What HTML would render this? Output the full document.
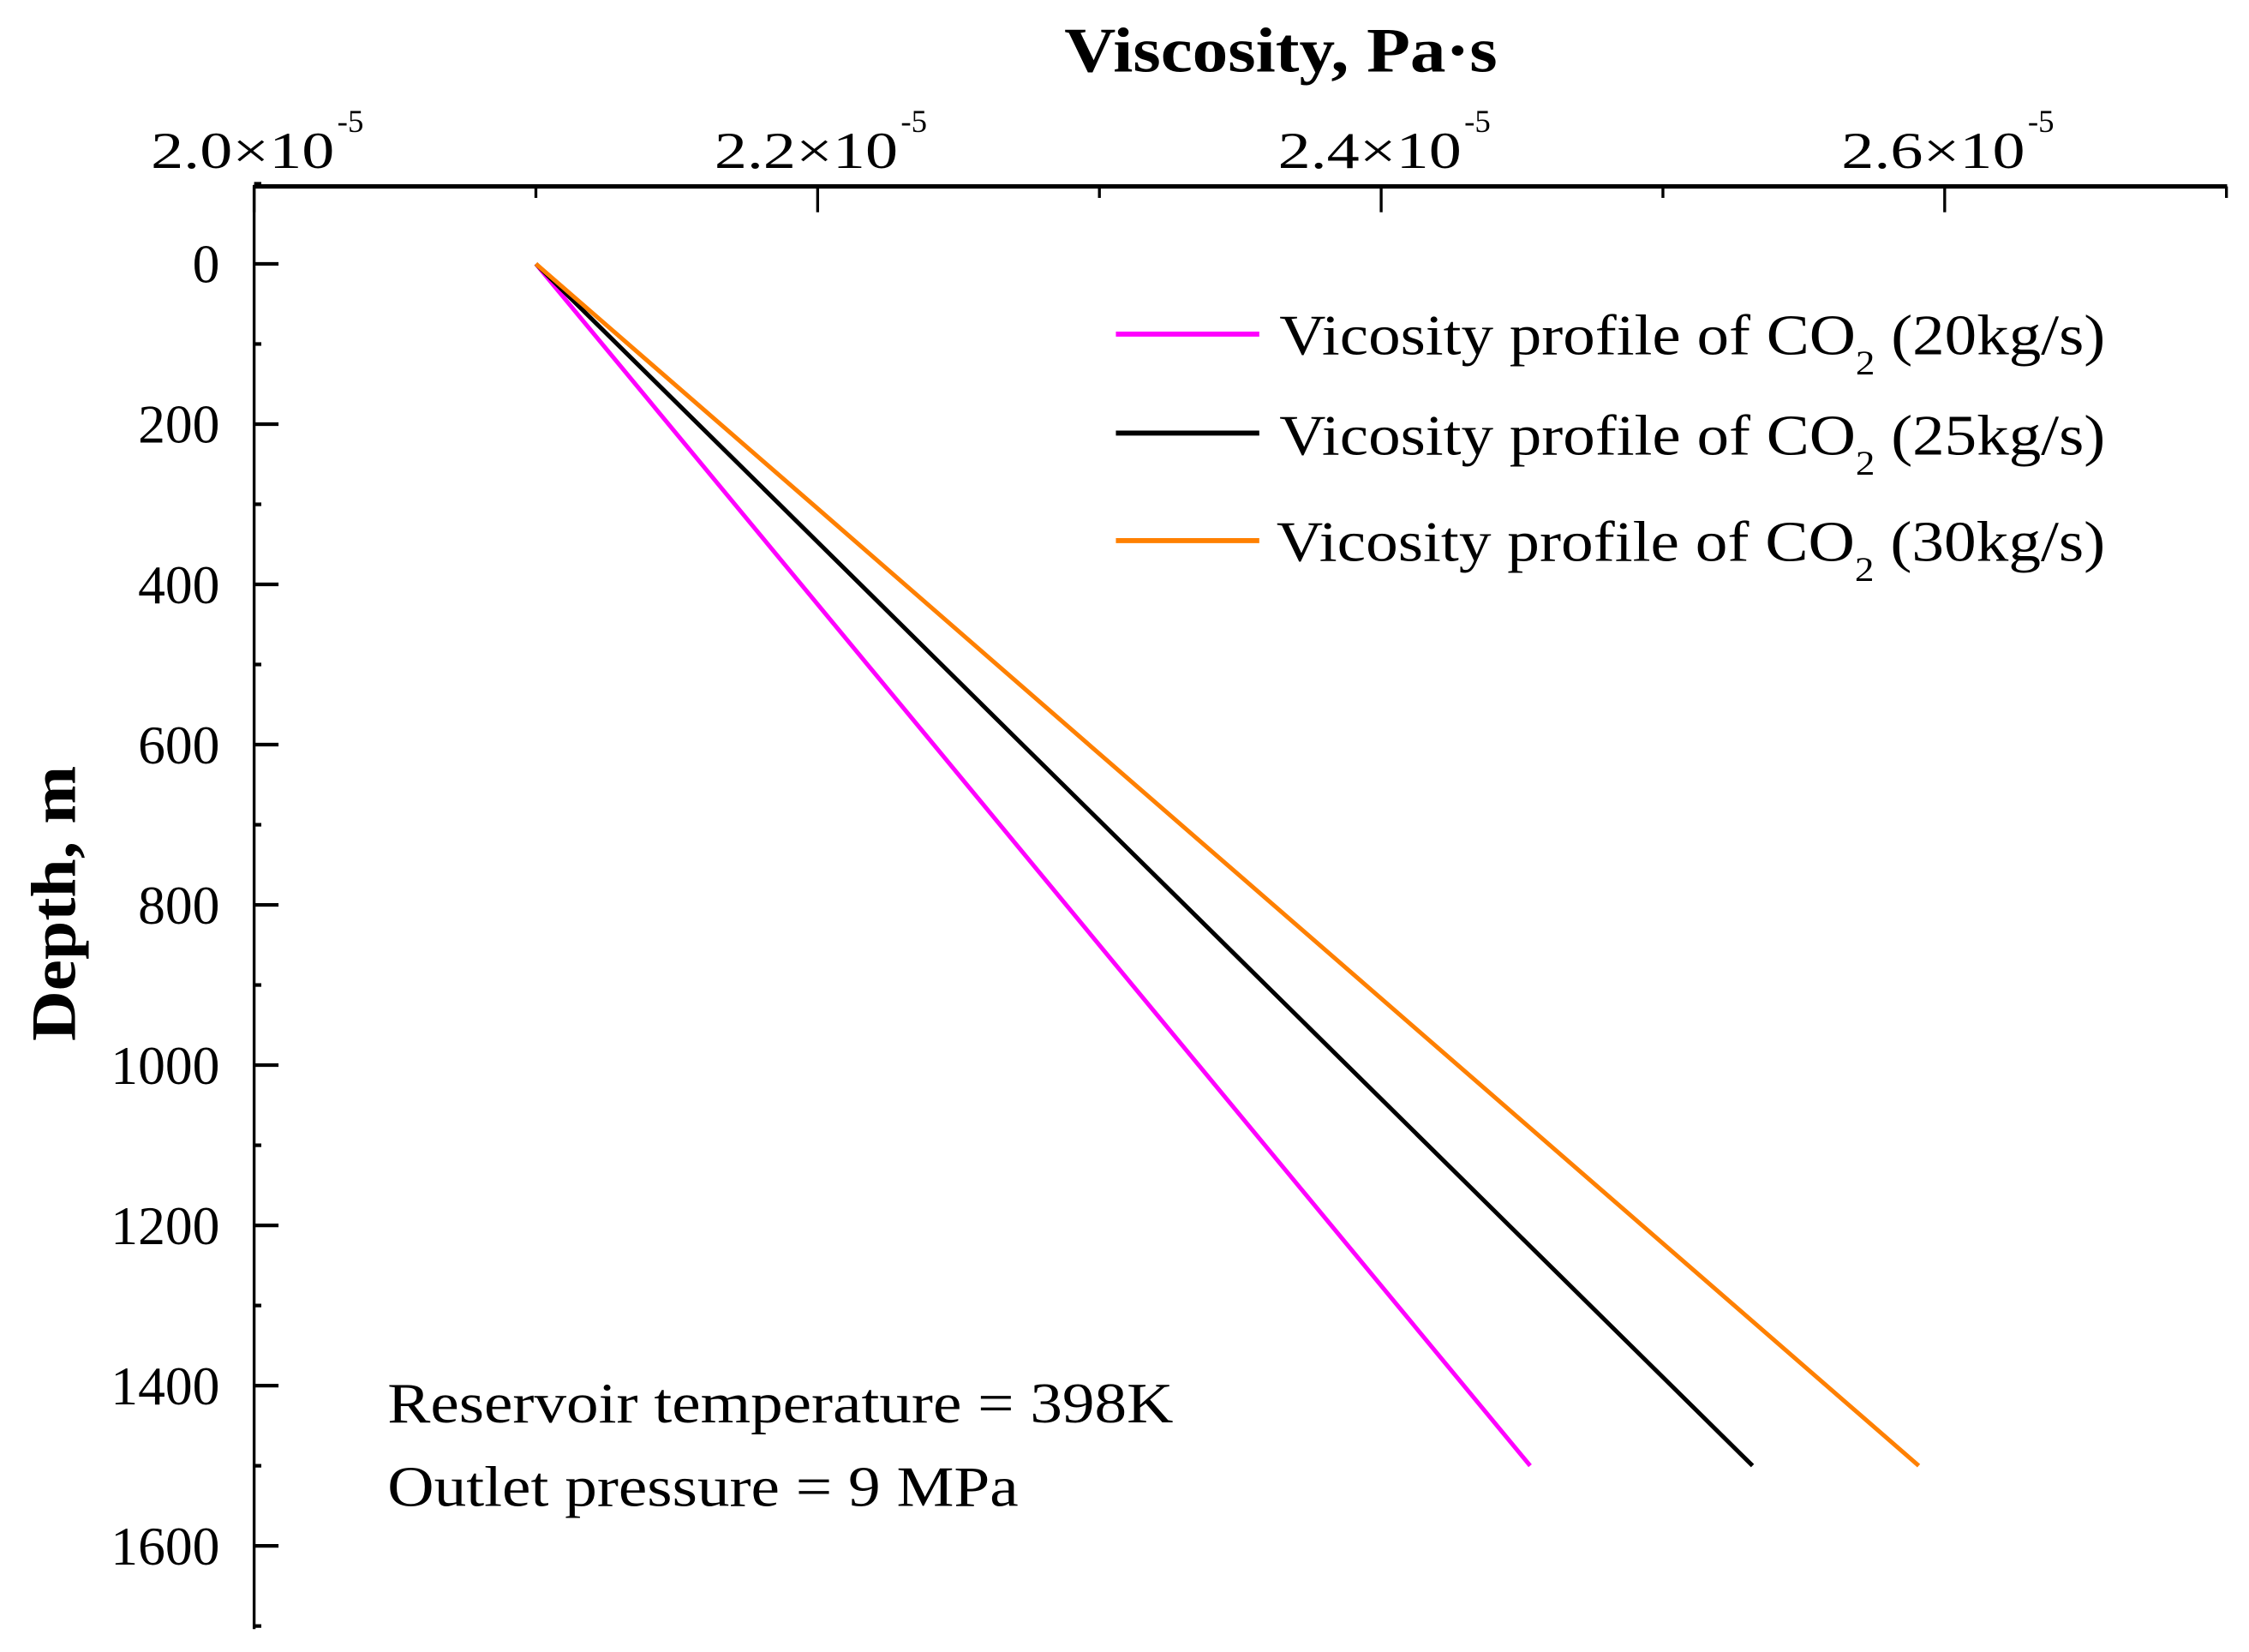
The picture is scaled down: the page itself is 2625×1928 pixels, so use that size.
<!DOCTYPE html>
<html><head><meta charset="utf-8"><style>
html,body{margin:0;padding:0;background:#fff}
svg{display:block}
text{font-family:"Liberation Serif",serif;fill:#000}
</style></head><body>
<svg id="chart" width="2625" height="1928" viewBox="0 0 1568 1152" xmlns="http://www.w3.org/2000/svg">
<g id="axes"></g>
<g id="series"></g>
<text x="893" y="50" text-anchor="middle" font-size="44" font-weight="bold" textLength="302" lengthAdjust="spacingAndGlyphs">Viscosity, Pa·s</text>
<text transform="translate(52,630) rotate(-90)" text-anchor="middle" font-size="44" font-weight="bold" textLength="192" lengthAdjust="spacingAndGlyphs">Depth, m</text>
<g>
 <g>
  <line x1="778" y1="233" x2="878" y2="233" stroke="#ff00ff" stroke-width="3.5"/>
  <text x="892" y="247" font-size="40" textLength="576" lengthAdjust="spacingAndGlyphs">Vicosity profile of CO<tspan font-size="24" dy="14">2</tspan><tspan dy="-14"> (20kg/s)</tspan></text>
 </g>
 <g>
  <line x1="778" y1="302" x2="878" y2="302" stroke="#000" stroke-width="3.5"/>
  <text x="892" y="317" font-size="40" textLength="576" lengthAdjust="spacingAndGlyphs">Vicosity profile of CO<tspan font-size="24" dy="14">2</tspan><tspan dy="-14"> (25kg/s)</tspan></text>
 </g>
 <g>
  <line x1="778" y1="377" x2="878" y2="377" stroke="#ff8000" stroke-width="3.5"/>
  <text x="890" y="391" font-size="40" textLength="578" lengthAdjust="spacingAndGlyphs">Vicosity profile of CO<tspan font-size="24" dy="14">2</tspan><tspan dy="-14"> (30kg/s)</tspan></text>
 </g>
</g>
<text x="270" y="992" font-size="40" textLength="548" lengthAdjust="spacingAndGlyphs">Reservoir temperature = 398K</text>
<text x="270" y="1050" font-size="40" textLength="440" lengthAdjust="spacingAndGlyphs">Outlet pressure = 9 MPa</text>
</svg>
<script>
const depths = [0, 300, 600, 900, 1200, 1500];
const visc20 = [2.1, 2.1706, 2.2412, 2.3117, 2.3823, 2.4529];
const visc25 = [2.1, 2.1864, 2.2727, 2.3591, 2.4454, 2.5318];
const visc30 = [2.1, 2.1982, 2.2963, 2.3945, 2.4926, 2.5908];
const xTickValues = [2.0, 2.2, 2.4, 2.6];
const xTickLabels = ["2.0×10", "2.2×10", "2.4×10", "2.6×10"];
const yTickValues = [0, 200, 400, 600, 800, 1000, 1200, 1400, 1600];

const NS = "http://www.w3.org/2000/svg";
function xs(v){ return 177 + (v - 2.0) * 1965; }
function ys(d){ return 184 + d * 0.55875; }
function mk(tag, attrs, parent){
  const e = document.createElementNS(NS, tag);
  for (const k in attrs) e.setAttribute(k, attrs[k]);
  parent.appendChild(e); return e;
}
const axesGroup = document.getElementById('axes');
const xAxisLine = mk('line', {x1:177, y1:130, x2:1553, y2:130, stroke:'#000', 'stroke-width':3}, axesGroup);


const yAxisLine = mk('line', {x1:177, y1:129, x2:177, y2:1136, stroke:'#000', 'stroke-width':2}, axesGroup);


for (let i = 0; i <= 7; i++) {
  const v = 2.0 + i * 0.1;
  const major = i % 2 === 0;
  const t = mk('line', {x1:xs(v), y1:130, x2:xs(v), y2:130 + (major?18:8), stroke:'#000', 'stroke-width':2}, axesGroup);
  
  
}
xTickValues.forEach((v, i) => {
  const t = mk('text', {x:xs(v) - 72, y:117, 'font-size':36, textLength:128, lengthAdjust:'spacingAndGlyphs'}, axesGroup);
  t.textContent = xTickLabels[i];
  
  
  const s = mk('text', {x:xs(v) + 58, y:92, 'font-size':22}, axesGroup);
  s.textContent = "-5";
  
  
});
for (let d = -100; d <= 1700; d += 100) {
  const major = d % 200 === 0;
  const t = mk('line', {x1:177, y1:ys(d), x2:177 + (major?17:5), y2:ys(d), stroke:'#000', 'stroke-width':2.5}, axesGroup);
  
  
}
yTickValues.forEach(d => {
  const t = mk('text', {x:153, y:ys(d) + 13, 'font-size':38, 'text-anchor':'end'}, axesGroup);
  t.textContent = String(d);
  
  
});
const seriesGroup = document.getElementById('series');
[[visc20,'#ff00ff','series-20kgs'],[visc25,'#000000','series-25kgs'],[visc30,'#ff8000','series-30kgs']].forEach(([vals,col,name]) => {
  const pts = vals.map((v,i) => xs(v).toFixed(1) + ',' + ys(depths[i]).toFixed(1)).join(' ');
  const p = mk('polyline', {points:pts, fill:'none', stroke:col, 'stroke-width':3}, seriesGroup);
  
  
});
</script>
</body></html>
